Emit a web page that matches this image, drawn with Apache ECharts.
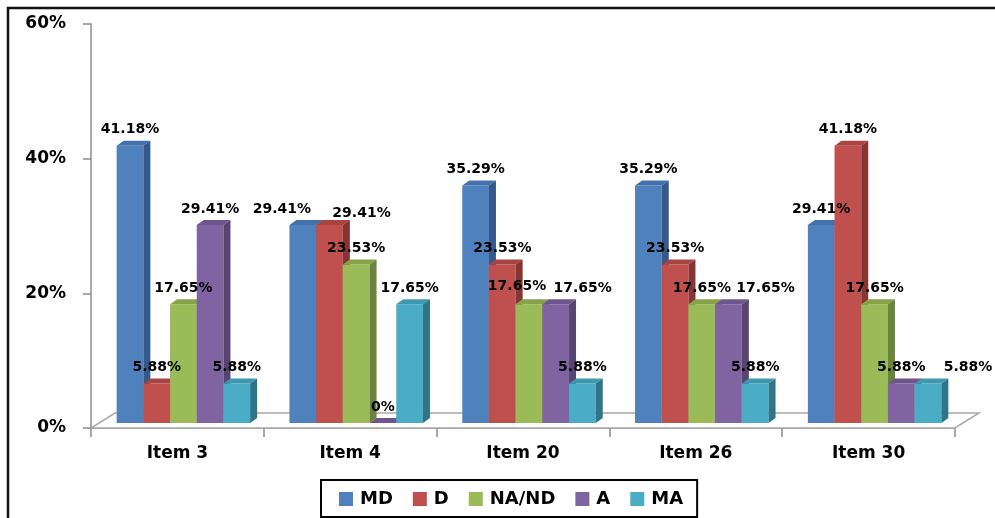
<!DOCTYPE html>
<html>
<head>
<meta charset="utf-8">
<title>Item responses</title>
<script src="https://cdn.jsdelivr.net/npm/echarts@6/dist/echarts.min.js"></script>
<style>
  html, body { margin: 0; padding: 0; background: #fff; }
  #chart { width: 995px; height: 518px; }
</style>
</head>
<body>
<div id="chart"></div>
<script>
// Categories and response shares (%)
const categories = ['Item 3', 'Item 4', 'Item 20', 'Item 26', 'Item 30'];
const seriesNames = ['MD', 'D', 'NA/ND', 'A', 'MA'];
const mdValues   = [41.18, 29.41, 35.29, 35.29, 29.41];
const dValues    = [5.88, 29.41, 23.53, 23.53, 41.18];
const nandValues = [17.65, 23.53, 17.65, 17.65, 17.65];
const aValues    = [29.41, 0, 17.65, 17.65, 5.88];
const maValues   = [5.88, 17.65, 5.88, 5.88, 5.88];
const yTickValues = [0, 20, 40, 60];

const allValues = [mdValues, dValues, nandValues, aValues, maValues];

// Face colours for the 3D-look bars: front, top, side
const faceColors = [
  { front: '#4F81BD', top: '#4371AB', side: '#34598A' },
  { front: '#C0504D', top: '#A94441', side: '#873532' },
  { front: '#9BBB59', top: '#86A34A', side: '#6A843C' },
  { front: '#8064A2', top: '#6E558E', side: '#574470' },
  { front: '#4BACC6', top: '#3E98B0', side: '#2F7587' }
];

// Hand-placed label nudges (px) so neighbouring labels do not collide
const labelNudgeX = [
  [0, -21, 0, 0, 0],
  [0, 32, 0, 0, 0],
  [0, 0, -12, 0, 0],
  [0, 0, 27, 37, 0],
  [0, 0, 0, 0, 40]
];
const labelNudgeY = [
  [0, 0, 0, 0, 0],
  [0, 4, 0, 0, 0],
  [0, 0, -2, 0, 0],
  [0, 0, 0, 0, 0],
  [0, 0, 0, 0, 0]
];

// 3D geometry
const DEPTH_X = 7, DEPTH_Y = -5;      // extrusion of the bar body
const SHIFT_X = 6, LIFT_Y = 5;        // bars sit slightly back on the floor
const BAR_FRAC = 0.1545;              // bar width as a share of the category band
const FLOOR_DX = 24, FLOOR_DY = -15;  // depth of the floor plane

const FONT = '"DejaVu Sans", Verdana, sans-serif';

function barGeom(api, sIdx) {
  const cat = api.value(0);
  const val = api.value(1);
  const base = api.coord([cat, 0]);
  const top = api.coord([cat, val]);
  const band = api.size([1, 0])[0];
  const bw = band * BAR_FRAC;
  const groupW = bw * seriesNames.length;
  const x = base[0] - groupW / 2 + sIdx * bw + SHIFT_X;
  return { x, bw, yBase: base[1] - LIFT_Y, yTop: top[1] - LIFT_Y, cat, val };
}

function makeBarRender(sIdx) {
  const c = faceColors[sIdx];
  return function (params, api) {
    const g = barGeom(api, sIdx);
    const x = g.x, w = g.bw, yt = g.yTop, yb = g.yBase;
    return {
      type: 'group',
      children: [
        {
          type: 'rect',
          shape: { x: x, y: yt, width: w, height: yb - yt },
          style: { fill: c.front }
        },
        {
          type: 'polygon',
          shape: { points: [[x, yt], [x + w, yt], [x + w + DEPTH_X, yt + DEPTH_Y], [x + DEPTH_X, yt + DEPTH_Y]] },
          style: { fill: c.top }
        },
        {
          type: 'polygon',
          shape: { points: [[x + w, yt], [x + w + DEPTH_X, yt + DEPTH_Y], [x + w + DEPTH_X, yb + DEPTH_Y], [x + w, yb]] },
          style: { fill: c.side }
        }
      ]
    };
  };
}

function makeLabelRender(sIdx) {
  return function (params, api) {
    const g = barGeom(api, sIdx);
    return {
      type: 'text',
      x: g.x + g.bw / 2 + labelNudgeX[sIdx][g.cat],
      y: g.yTop - 16 + labelNudgeY[sIdx][g.cat],
      style: {
        text: g.val + '%',
        fill: '#000',
        font: 'bold 14px ' + FONT,
        align: 'center',
        verticalAlign: 'middle'
      }
    };
  };
}

function floorRender(params, api) {
  const cs = params.coordSys;
  const xl = cs.x, xr = cs.x + cs.width, yf = cs.y + cs.height;
  return {
    type: 'polygon',
    shape: {
      points: [[xl, yf], [xr, yf], [xr + FLOOR_DX, yf + FLOOR_DY], [xl + FLOOR_DX, yf + FLOOR_DY]]
    },
    style: { fill: '#fff', stroke: '#a8a8a8', lineWidth: 1.5 }
  };
}

const series = [
  {
    type: 'custom',
    name: '__floor',
    silent: true,
    z: 1,
    renderItem: floorRender,
    data: [[0, 0]]
  }
];

seriesNames.forEach(function (name, s) {
  series.push({
    type: 'custom',
    name: name,
    z: 2,
    itemStyle: { color: faceColors[s].front },
    renderItem: makeBarRender(s),
    encode: { x: 0, y: 1 },
    data: categories.map(function (_, i) { return [i, allValues[s][i]]; })
  });
});

seriesNames.forEach(function (name, s) {
  series.push({
    type: 'custom',
    name: '__label_' + name,
    silent: true,
    z: 10,
    renderItem: makeLabelRender(s),
    encode: { x: 0, y: 1 },
    data: categories.map(function (_, i) { return [i, allValues[s][i]]; })
  });
});

const chart = echarts.init(document.getElementById('chart'), null, { renderer: 'canvas' });

chart.setOption({
  animation: false,
  backgroundColor: '#fff',
  grid: { left: 91, top: 24, right: 40, bottom: 90, containLabel: false },
  xAxis: {
    type: 'category',
    data: categories,
    boundaryGap: true,
    axisLine: { lineStyle: { color: '#8c8c8c', width: 1.5 } },
    axisTick: { show: true, length: 9, lineStyle: { color: '#8c8c8c', width: 1.5 } },
    axisLabel: { color: '#000', fontFamily: FONT, fontWeight: 'bold', fontSize: 17, margin: 17 }
  },
  yAxis: {
    type: 'value',
    min: yTickValues[0],
    max: yTickValues[yTickValues.length - 1],
    interval: yTickValues[1] - yTickValues[0],
    splitLine: { show: false },
    axisLine: { show: true, lineStyle: { color: '#8c8c8c', width: 1.5 } },
    axisTick: { show: true, length: 8, lineStyle: { color: '#8c8c8c', width: 1.5 } },
    axisLabel: {
      color: '#000', fontFamily: FONT, fontWeight: 'bold', fontSize: 17, margin: 25,
      padding: [5, 0, 0, 0],
      formatter: '{value}%'
    }
  },
  legend: {
    data: seriesNames,
    left: 321,
    top: 480,
    icon: 'rect',
    itemWidth: 14,
    itemHeight: 14,
    itemGap: 20,
    padding: [9, 14, 8, 18],
    borderColor: '#000',
    borderWidth: 2,
    borderRadius: 0,
    textStyle: { color: '#000', fontFamily: FONT, fontWeight: 'bold', fontSize: 18, lineHeight: 20, padding: [0, 0, 0, 2] }
  },
  graphic: [
    {
      type: 'rect',
      silent: true,
      z: 100,
      shape: { x: 8, y: 8, width: 1010, height: 600 },
      style: { fill: 'none', stroke: '#111', lineWidth: 2.5 }
    }
  ],
  series: series
});
</script>
</body>
</html>
